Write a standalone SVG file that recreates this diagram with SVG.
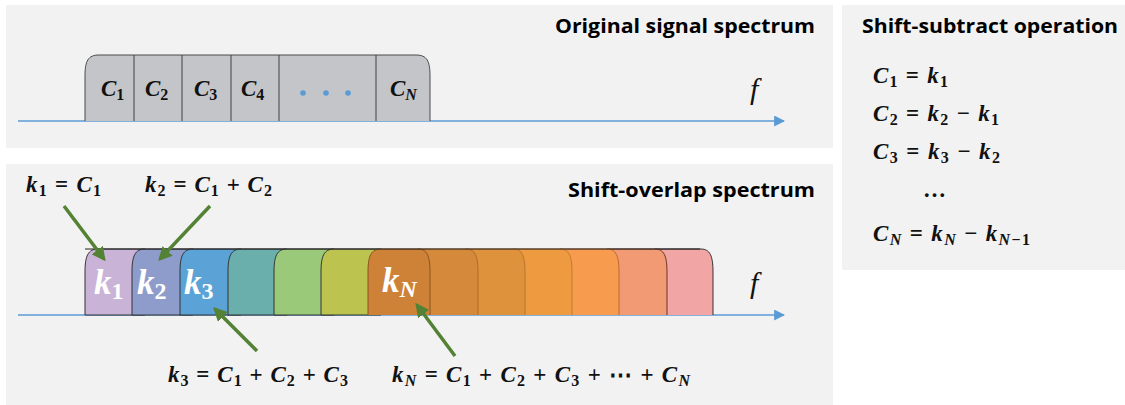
<svg xmlns="http://www.w3.org/2000/svg" width="1125" height="405" viewBox="0 0 1125 405">
<style>
.panel{fill:#f2f2f2}
.title{font-family:"Open Sans","Liberation Sans",sans-serif;font-weight:bold;font-size:20px;fill:#000}
.m{font-family:"Liberation Serif","DejaVu Serif",serif;font-style:italic;font-weight:bold;font-size:23px;fill:#111}
.u{font-style:normal}
.s{font-size:16px;font-style:normal}
.si{font-size:16px}
.w{fill:#fff;font-size:35px}
.ws{font-size:24px}
.axis{stroke:#5b9bd5;stroke-width:1.5;fill:none}
.cell{stroke:#404040;stroke-width:1}
.blk{stroke-width:1}
.ga{stroke:#548235;stroke-width:3.5;fill:none}
.f{font-family:"Liberation Serif",serif;font-style:italic;font-size:30px;fill:#111}
</style>
<defs>
<marker id="ah" viewBox="0 0 10 10" refX="9" refY="5" markerWidth="11" markerHeight="11" markerUnits="userSpaceOnUse" orient="auto"><path d="M0,0 L10,5 L0,10 Z" fill="#5b9bd5"/></marker>
<marker id="gh" viewBox="0 0 10 10" refX="8" refY="5" markerWidth="14" markerHeight="14" markerUnits="userSpaceOnUse" orient="auto"><path d="M0,0 L10,5 L0,10 Z" fill="#548235"/></marker>
</defs>
<rect width="1125" height="405" fill="#fff"/>

<g id="panel-original">
<rect class="panel" x="6" y="5" width="827" height="143"/>
<text class="title" x="815" y="33" text-anchor="end" textLength="260" lengthAdjust="spacingAndGlyphs">Original signal spectrum</text>
<line class="axis" x1="18" y1="121" x2="784" y2="121" marker-end="url(#ah)"/>
<path d="M85,121 V76 C85,61 88,55 99,55 H416 C427,55 430,61 430,76 V121" fill="#c3c5c9" stroke="#4a4a4a" stroke-width="1"/>
<g class="cell">
<line x1="134" y1="55" x2="134" y2="121"/>
<line x1="182" y1="55" x2="182" y2="121"/>
<line x1="231" y1="55" x2="231" y2="121"/>
<line x1="279" y1="55" x2="279" y2="121"/>
<line x1="376" y1="55" x2="376" y2="121"/>
</g>
<text class="m" x="101" y="96">C<tspan class="s" dy="4">1</tspan></text>
<text class="m" x="145" y="96">C<tspan class="s" dy="4">2</tspan></text>
<text class="m" x="194" y="96">C<tspan class="s" dy="4">3</tspan></text>
<text class="m" x="241" y="96">C<tspan class="s" dy="4">4</tspan></text>
<circle cx="303" cy="93" r="2.8" fill="#5b9bd5"/>
<circle cx="326" cy="93" r="2.8" fill="#5b9bd5"/>
<circle cx="348" cy="93" r="2.8" fill="#5b9bd5"/>
<text class="m" x="390" y="96">C<tspan class="si" dy="4">N</tspan></text>
<text class="f" x="750" y="99">f</text>
</g>

<g id="panel-overlap">
<rect class="panel" x="6" y="164" width="827" height="241"/>
<text class="title" x="815" y="197" text-anchor="end" textLength="247" lengthAdjust="spacingAndGlyphs">Shift-overlap spectrum</text>
<line class="axis" x1="18" y1="315" x2="784" y2="315" marker-end="url(#ah)"/>
<g class="blk">
<path d="M85,315 V272 C85,256 88,249 98,249 H145 V315 Z" fill="#c9b3d7" stroke="#333"/>
<path d="M132,315 V272 C132,256 135,249 145,249 H193 V315 Z" fill="#8e9ccc" stroke="#333"/>
<path d="M180,315 V272 C180,256 183,249 193,249 H241 V315 Z" fill="#5ba3d6" stroke="#333"/>
<path d="M228,315 V272 C228,256 231,249 241,249 H287 V315 Z" fill="#6aafab" stroke="#333"/>
<path d="M274,315 V272 C274,256 277,249 287,249 H334 V315 Z" fill="#9bc97a" stroke="#333"/>
<path d="M321,315 V272 C321,256 324,249 334,249 H381 V315 Z" fill="#bcc44f" stroke="#333"/>
<path d="M655,315 V249 H701 C710,249 713,256 713,272 V315" fill="#f2a5a5" stroke="#333"/>
<path d="M607,315 V249 H655 C664,249 667,256 667,272 V315" fill="#f29a74" stroke="#6b3422"/>
<path d="M560,315 V249 H607 C616,249 619,256 619,272 V315" fill="#f79c4e" stroke="#b86a30"/>
<path d="M513,315 V249 H560 C569,249 572,256 572,272 V315" fill="#ee9a40" stroke="#c07a30"/>
<path d="M466,315 V249 H513 C522,249 525,256 525,272 V315" fill="#de923c" stroke="#b8742c"/>
<path d="M418,315 V249 H466 C475,249 478,256 478,272 V315" fill="#d48a3a" stroke="#b06a28"/>
<path d="M368,315 V272 C368,256 371,249 381,249 H418 C427,249 430,256 430,272 V315" fill="#cd8237" stroke="#8a5222"/>
<line x1="85" y1="249" x2="700" y2="249" stroke="#222" stroke-width="1"/>
</g>
<text class="m w" x="94" y="294">k<tspan class="s ws" dy="5">1</tspan></text>
<text class="m w" x="137" y="294">k<tspan class="s ws" dy="5">2</tspan></text>
<text class="m w" x="184" y="294">k<tspan class="s ws" dy="5">3</tspan></text>
<text class="m w" x="382" y="292">k<tspan class="si ws" dy="5">N</tspan></text>
<text class="f" x="750" y="293">f</text>
<text class="m" x="26" y="192" textLength="75" lengthAdjust="spacing">k<tspan class="s" dy="4">1</tspan><tspan class="u" dy="-4"> = </tspan>C<tspan class="s" dy="4">1</tspan></text>
<text class="m" x="145" y="192" textLength="127" lengthAdjust="spacing">k<tspan class="s" dy="4">2</tspan><tspan class="u" dy="-4"> = </tspan>C<tspan class="s" dy="4">1</tspan><tspan class="u" dy="-4"> + </tspan>C<tspan class="s" dy="4">2</tspan></text>
<text class="m" x="168" y="382" textLength="180" lengthAdjust="spacing">k<tspan class="s" dy="4">3</tspan><tspan class="u" dy="-4"> = </tspan>C<tspan class="s" dy="4">1</tspan><tspan class="u" dy="-4"> + </tspan>C<tspan class="s" dy="4">2</tspan><tspan class="u" dy="-4"> + </tspan>C<tspan class="s" dy="4">3</tspan></text>
<text class="m" x="392" y="382" textLength="298" lengthAdjust="spacing">k<tspan class="si" dy="4">N</tspan><tspan class="u" dy="-4"> = </tspan>C<tspan class="s" dy="4">1</tspan><tspan class="u" dy="-4"> + </tspan>C<tspan class="s" dy="4">2</tspan><tspan class="u" dy="-4"> + </tspan>C<tspan class="s" dy="4">3</tspan><tspan class="u" dy="-4"> + ⋯ + </tspan>C<tspan class="si" dy="4">N</tspan></text>
</g>

<g id="connectors">
<line class="ga" x1="64" y1="206" x2="104" y2="259" marker-end="url(#gh)"/>
<line class="ga" x1="210" y1="206" x2="160" y2="259" marker-end="url(#gh)"/>
<line class="ga" x1="257" y1="351" x2="215" y2="309" marker-end="url(#gh)"/>
<line class="ga" x1="455" y1="356" x2="417" y2="305" marker-end="url(#gh)"/>
</g>

<g id="panel-subtract">
<rect class="panel" x="842" y="5" width="283" height="265"/>
<text class="title" x="862" y="33" textLength="256" lengthAdjust="spacingAndGlyphs">Shift-subtract operation</text>
<text class="m" x="873" y="83" textLength="75" lengthAdjust="spacing">C<tspan class="s" dy="4">1</tspan><tspan class="u" dy="-4"> = </tspan>k<tspan class="s" dy="4">1</tspan></text>
<text class="m" x="873" y="121" textLength="126" lengthAdjust="spacing">C<tspan class="s" dy="4">2</tspan><tspan class="u" dy="-4"> = </tspan>k<tspan class="s" dy="4">2</tspan><tspan class="u" dy="-4"> − </tspan>k<tspan class="s" dy="4">1</tspan></text>
<text class="m" x="873" y="159" textLength="127" lengthAdjust="spacing">C<tspan class="s" dy="4">3</tspan><tspan class="u" dy="-4"> = </tspan>k<tspan class="s" dy="4">3</tspan><tspan class="u" dy="-4"> − </tspan>k<tspan class="s" dy="4">2</tspan></text>
<text class="m u" x="923" y="197">…</text>
<text class="m" x="873" y="241" textLength="157" lengthAdjust="spacing">C<tspan class="si" dy="4">N</tspan><tspan class="u" dy="-4"> = </tspan>k<tspan class="si" dy="4">N</tspan><tspan class="u" dy="-4"> − </tspan>k<tspan class="si" dy="4">N</tspan><tspan class="s">−1</tspan></text>
</g>
</svg>
